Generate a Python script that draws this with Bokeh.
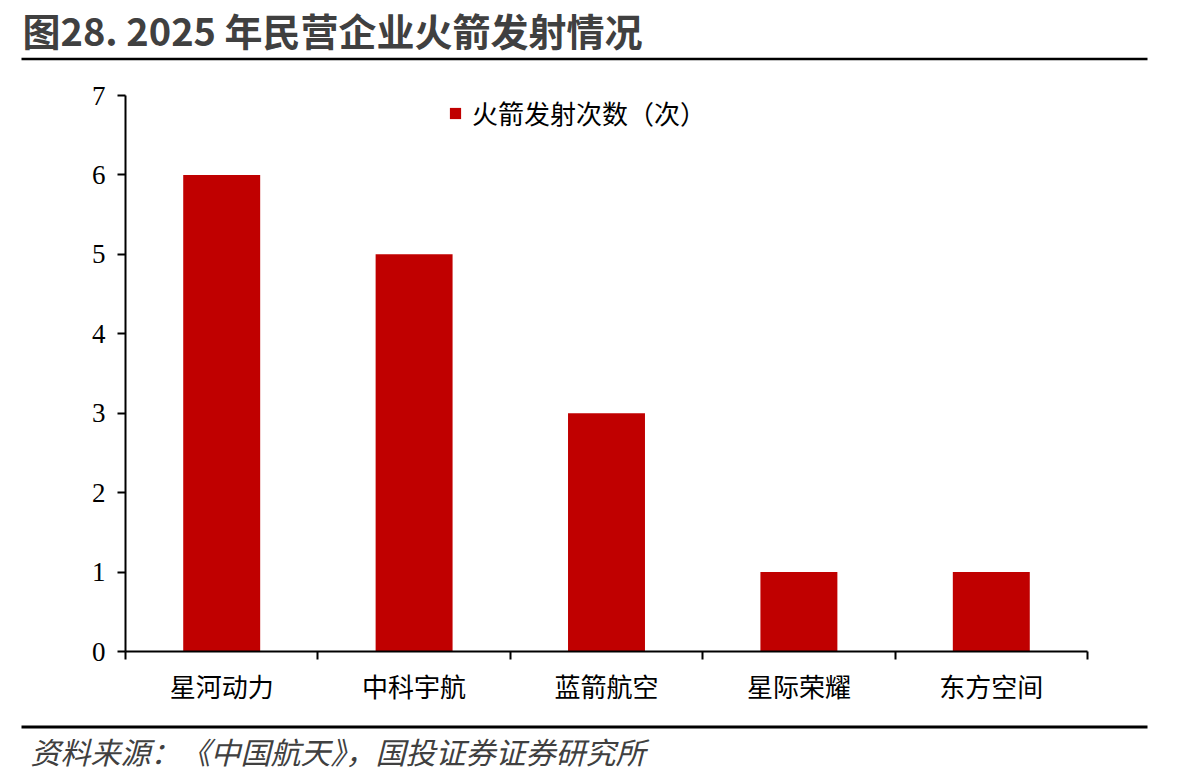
from bokeh.plotting import figure
from bokeh.models import Range1d, FixedTicker, Legend, LegendItem
from bokeh.core.properties import value
from bokeh.embed import file_html
from bokeh.resources import INLINE

title_text = "图28. 2025 年民营企业火箭发射情况"
source_text = "资料来源：《中国航天》，国投证券证券研究所"
series_name = "火箭发射次数（次）"
categories = ["星河动力", "中科宇航", "蓝箭航空", "星际荣耀", "东方空间"]
launches = [6, 5, 3, 1, 1]
y_ticks = [0, 1, 2, 3, 4, 5, 6, 7]

W = 1193
CJK = "Noto Sans CJK SC"
frame_left, frame_right = 125, 1087


def deco_fig(h):
    f = figure(width=W, height=h, output_backend="svg", toolbar_location=None,
               x_range=Range1d(0, W), y_range=Range1d(h, 0),
               min_border=0, outline_line_color=None)
    f.axis.visible = False
    f.grid.visible = False
    return f


# ---------- header ----------
hdr_h = 70
hdr = deco_fig(hdr_h)
hdr.text(x=[22], y=[29], text=[title_text], text_font=value(CJK), text_font_style="bold",
         text_font_size="38px", text_color="#404040", text_baseline="middle", text_align="left")
hdr.segment(x0=[21], y0=[58.5], x1=[1147], y1=[58.5], line_color="black", line_width=2.5)

# ---------- chart ----------
ch_top, ch_bot = 70, 722
frame_top, frame_bot = 95, 651
p = figure(width=W, height=ch_bot - ch_top, output_backend="svg", toolbar_location=None,
           x_range=Range1d(0, len(categories)), y_range=Range1d(0, 7),
           min_border_left=frame_left, min_border_right=W - frame_right,
           min_border_top=frame_top - ch_top, min_border_bottom=ch_bot - frame_bot,
           outline_line_color=None)
p.grid.visible = False
centers = [i + 0.5 for i in range(len(categories))]
r = p.vbar(x=centers, top=launches, width=0.4, fill_color="#C00000", line_color=None)

xa = p.xaxis[0]
xa.ticker = FixedTicker(ticks=centers, minor_ticks=list(range(len(categories) + 1)))
xa.major_label_overrides = {c: lab for c, lab in zip(centers, categories)}
xa.major_tick_out = 0
xa.major_tick_in = 0
xa.minor_tick_out = 8
xa.minor_tick_in = 0
xa.minor_tick_line_color = "black"
xa.minor_tick_line_width = 2
xa.axis_line_width = 2
xa.axis_line_color = "black"
xa.major_label_text_font = CJK
xa.major_label_text_font_size = "26px"
xa.major_label_text_color = "black"
xa.major_label_standoff = 7

ya = p.yaxis[0]
ya.ticker = FixedTicker(ticks=y_ticks)
ya.minor_tick_line_color = None
ya.major_tick_out = 8
ya.major_tick_in = 0
ya.major_tick_line_width = 2
ya.major_tick_line_color = "black"
ya.axis_line_width = 2
ya.axis_line_color = "black"
ya.major_label_text_font = "Liberation Serif"
ya.major_label_text_font_size = "27px"
ya.major_label_text_color = "black"
ya.major_label_standoff = 12

legend = Legend(items=[LegendItem(label=series_name, renderers=[r])],
                location=(323, 520), orientation="horizontal",
                glyph_width=14, glyph_height=14, label_standoff=10,
                label_text_font=CJK, label_text_font_size="26px", label_text_color="black",
                border_line_color=None, background_fill_alpha=0, padding=0, margin=0)
p.add_layout(legend)

# ---------- footer ----------
ft_h = 784 - ch_bot
ft = deco_fig(ft_h)
ft.segment(x0=[21], y0=[4.5], x1=[1147], y1=[4.5], line_color="black", line_width=3)
ft.text(x=[30], y=[28], text=[source_text], text_font=value(CJK), text_font_style="italic",
        text_font_size="30px", text_color="#404040", text_baseline="middle", text_align="left")

open("out.html", "w").write(file_html([hdr, p, ft], INLINE))
